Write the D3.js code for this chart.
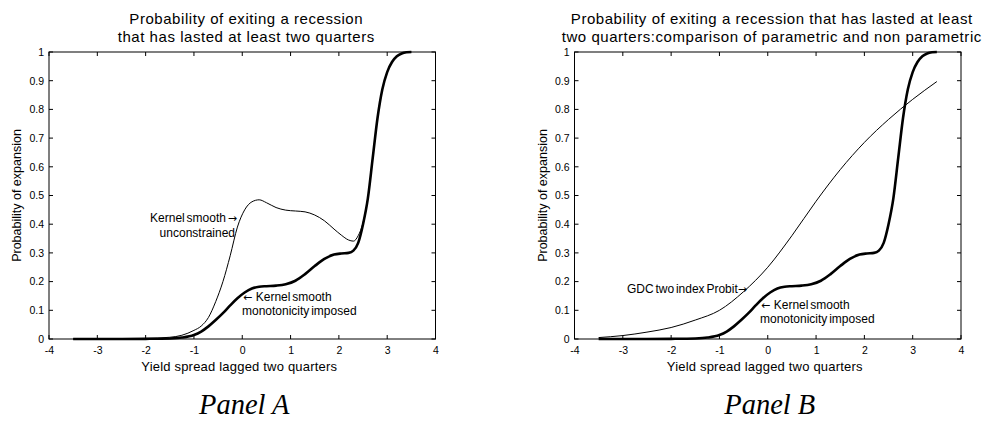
<!DOCTYPE html>
<html>
<head>
<meta charset="utf-8">
<script src="https://cdn.jsdelivr.net/npm/d3@7/dist/d3.min.js"></script>
<style>
  html, body { margin: 0; padding: 0; background: #fff; }
  svg { display: block; }
  text { font-family: "Liberation Sans", Arial, sans-serif; fill: #000; }
</style>
</head>
<body>
<svg id="chart" width="995" height="425"></svg>
<script>
// Yield spread grid shared by both kernel smooth estimates
const kernelX = [-3.5, -3.0, -2.5, -2.0, -1.5, -1.25, -1.0, -0.85, -0.7, -0.55, -0.4, -0.25, -0.1,
  0.05, 0.2, 0.35, 0.5, 0.7, 0.9, 1.1, 1.3, 1.5, 1.7, 1.9, 2.05, 2.2, 2.3, 2.4, 2.5, 2.6, 2.7,
  2.8, 2.9, 3.0, 3.1, 3.2, 3.3, 3.4, 3.5];

// Kernel smooth with monotonicity imposed
const kernelMonotone = [0, 0, 0, 0.0005, 0.002, 0.005, 0.014, 0.026, 0.044, 0.066, 0.090, 0.117, 0.142,
  0.162, 0.176, 0.182, 0.184, 0.186, 0.191, 0.203, 0.226, 0.254, 0.279, 0.294, 0.298, 0.300, 0.308,
  0.335, 0.40, 0.49, 0.63, 0.77, 0.87, 0.93, 0.965, 0.985, 0.995, 0.999, 1.0];

// Unconstrained kernel smooth
const kernelUnconstrained = [0, 0, 0.0005, 0.002, 0.006, 0.013, 0.03, 0.045, 0.075, 0.13, 0.20, 0.29, 0.39,
  0.45, 0.478, 0.485, 0.475, 0.458, 0.449, 0.446, 0.443, 0.432, 0.412, 0.383, 0.362, 0.345, 0.341,
  0.36, 0.405, 0.49, 0.63, 0.77, 0.87, 0.93, 0.965, 0.985, 0.995, 0.999, 1.0];

// GDC two index Probit fit
const probitX = [-3.5, -3.0, -2.5, -2.0, -1.5, -1.0, -0.5, 0, 0.5, 1.0, 1.5, 2.0, 2.5, 3.0, 3.5];
const probitY = [0.005, 0.012, 0.024, 0.04, 0.066, 0.10, 0.165, 0.25, 0.36, 0.48, 0.59, 0.685, 0.765, 0.835, 0.897];

const xTicks = [-4, -3, -2, -1, 0, 1, 2, 3, 4];
const yTicks = [0, 0.1, 0.2, 0.3, 0.4, 0.5, 0.6, 0.7, 0.8, 0.9, 1];
const yTickLabels = ["0", "0.1", "0.2", "0.3", "0.4", "0.5", "0.6", "0.7", "0.8", "0.9", "1"];

const titlesA = ["Probability of exiting a recession", "that has lasted at least two quarters"];
const titlesB = ["Probability of exiting a recession that has lasted at least",
                 "two quarters:comparison of parametric and non parametric"];
const xLabel = "Yield spread lagged two quarters";
const yLabel = "Probability of expansion";

const svg = d3.select("#chart");
const SANS = "'Liberation Sans', Arial, sans-serif";
const ARROW_FONT = "'DejaVu Sans', sans-serif";

function zip(xs, ys) { return xs.map((x, i) => [x, ys[i]]); }

// text with optional arrow glyphs drawn in a font that has full-size arrows
function addNote(g, n) {
  const t = g.append("text").attr("x", n.px).attr("y", n.py)
    .attr("text-anchor", n.anchor)
    .style("font-size", "12px").style("font-family", SANS);
  if (n.before) t.append("tspan").style("font-family", ARROW_FONT).style("font-size", "11px").text(n.before);
  t.append("tspan").style("word-spacing", "-1.5px").text(n.text);
  if (n.after) t.append("tspan").style("font-family", ARROW_FONT).style("font-size", "11px").text(n.after);
}

function drawPanel(cfg) {
  const x = d3.scaleLinear().domain([-4, 4]).range([cfg.left, cfg.right]);
  const y = d3.scaleLinear().domain([0, 1]).range([339, 52]);
  const g = svg.append("g");
  const tick = 4;

  // axes box
  g.append("rect")
    .attr("x", x(-4)).attr("y", y(1))
    .attr("width", x(4) - x(-4)).attr("height", y(0) - y(1))
    .attr("fill", "none").attr("stroke", "#000").attr("stroke-width", 1);

  // tick labels
  const ax = d3.axisBottom(x).tickValues(xTicks).tickSize(0);
  const xAxis = g.append("g").attr("transform", `translate(0,${y(0)})`).call(ax);
  xAxis.select(".domain").remove();
  xAxis.selectAll("text").attr("dy", null).attr("y", 15)
    .style("font-size", "10.5px").style("font-family", SANS)
    .text(d => d < 0 ? "-" + Math.abs(d) : d);

  const ay = d3.axisLeft(y).tickValues(yTicks).tickSize(0).tickFormat((d, i) => yTickLabels[i]);
  const yAxis = g.append("g").attr("transform", `translate(${x(-4)},0)`).call(ay);
  yAxis.select(".domain").remove();
  yAxis.selectAll("text").attr("x", -5)
    .style("font-size", "10.5px").style("font-family", SANS);

  // inward ticks on all four sides
  g.selectAll(".xt-b").data(xTicks).join("line")
    .attr("x1", d => x(d)).attr("x2", d => x(d))
    .attr("y1", y(0)).attr("y2", y(0) - tick).attr("stroke", "#000");
  g.selectAll(".xt-t").data(xTicks).join("line")
    .attr("x1", d => x(d)).attr("x2", d => x(d))
    .attr("y1", y(1)).attr("y2", y(1) + tick).attr("stroke", "#000");
  g.selectAll(".yt-l").data(yTicks).join("line")
    .attr("x1", x(-4)).attr("x2", x(-4) + tick)
    .attr("y1", d => y(d)).attr("y2", d => y(d)).attr("stroke", "#000");
  g.selectAll(".yt-r").data(yTicks).join("line")
    .attr("x1", x(4)).attr("x2", x(4) - tick)
    .attr("y1", d => y(d)).attr("y2", d => y(d)).attr("stroke", "#000");

  // titles and axis labels
  const cx = (x(-4) + x(4)) / 2;
  cfg.titles.forEach((t, i) => {
    g.append("text").attr("x", cx + 4).attr("y", 24 + i * 18)
      .attr("text-anchor", "middle")
      .style("font-size", "15px").style("letter-spacing", "0.55px").text(t);
  });
  g.append("text").attr("x", cx - 3).attr("y", 371)
    .attr("text-anchor", "middle")
    .style("font-size", "13px").style("letter-spacing", "0.2px").text(xLabel);
  g.append("text")
    .attr("transform", `translate(${x(-4) - 28},${(y(0) + y(1)) / 2}) rotate(-90)`)
    .attr("text-anchor", "middle").style("font-size", "12.5px").text(yLabel);

  // curves
  const line = d3.line().x(d => x(d[0])).y(d => y(d[1])).curve(d3.curveMonotoneX);
  cfg.series.forEach(s => {
    g.append("path").datum(zip(s.xs, s.ys))
      .attr("d", line).attr("fill", "none").attr("stroke", "#000")
      .attr("stroke-width", s.width).attr("stroke-linejoin", "round");
  });

  cfg.notes.forEach(n => addNote(g, n));

  // panel label
  g.append("text").attr("x", cx + 2).attr("y", 414)
    .attr("text-anchor", "middle")
    .style("font-family", "'Liberation Serif', 'Times New Roman', serif")
    .style("font-style", "italic").style("font-weight", "normal").style("font-size", "28.5px")
    .text(cfg.panel);
}

drawPanel({
  left: 49, right: 435.5, titles: titlesA, panel: "Panel A",
  series: [
    { xs: kernelX, ys: kernelUnconstrained, width: 1 },
    { xs: kernelX, ys: kernelMonotone, width: 2.6 }
  ],
  notes: [
    { px: 237, py: 222, anchor: "end", text: "Kernel smooth ", after: "\u2192" },
    { px: 235, py: 237, anchor: "end", text: "unconstrained" },
    { px: 243, py: 301, anchor: "start", before: "\u2190 ", text: "Kernel smooth" },
    { px: 242, py: 315, anchor: "start", text: "monotonicity imposed" }
  ]
});

drawPanel({
  left: 574.5, right: 961, titles: titlesB, panel: "Panel B",
  series: [
    { xs: probitX, ys: probitY, width: 1 },
    { xs: kernelX, ys: kernelMonotone, width: 2.6 }
  ],
  notes: [
    { px: 747, py: 293, anchor: "end", text: "GDC two index Probit", after: "\u2192" },
    { px: 761, py: 309, anchor: "start", before: "\u2190 ", text: "Kernel smooth" },
    { px: 760, py: 323, anchor: "start", text: "monotonicity imposed" }
  ]
});
</script>
</body>
</html>
